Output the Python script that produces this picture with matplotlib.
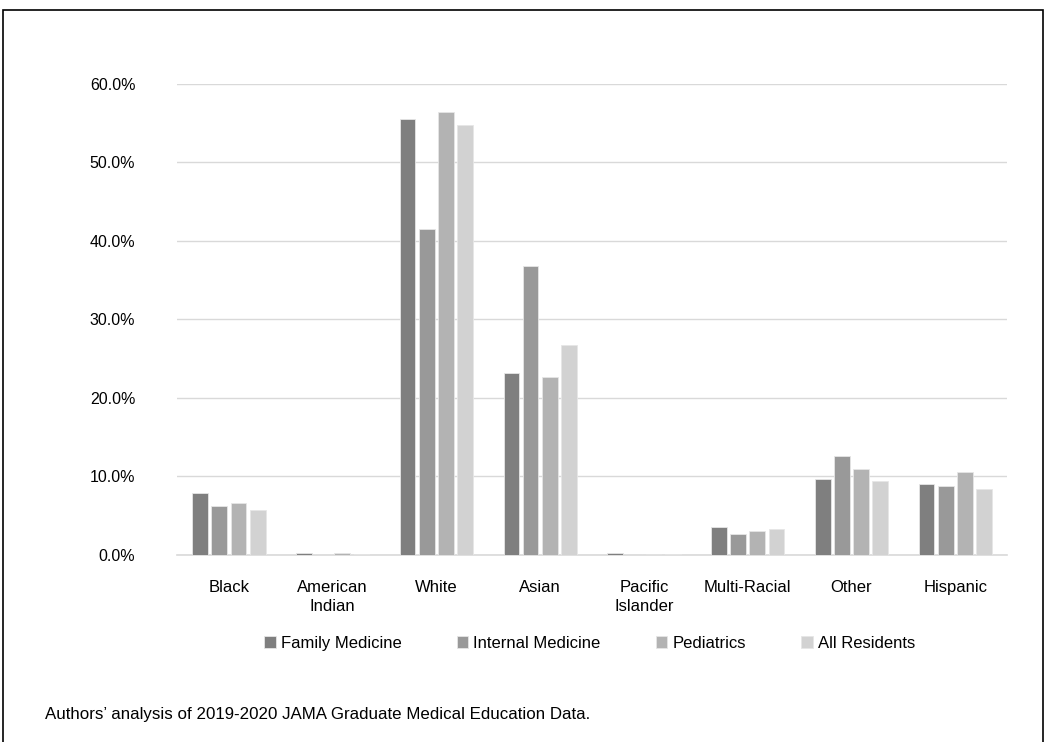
import numpy as np
import matplotlib.pyplot as plt
from matplotlib.patches import Rectangle
from matplotlib.ticker import FuncFormatter

categories = ['Black', 'American\nIndian', 'White', 'Asian', 'Pacific\nIslander',
              'Multi-Racial', 'Other', 'Hispanic']
series_names = ['Family Medicine', 'Internal Medicine', 'Pediatrics', 'All Residents']
family_med = [7.9, 0.3, 55.5, 23.2, 0.2, 3.6, 9.7, 9.1]
internal_med = [6.2, 0.1, 41.5, 36.8, 0.1, 2.7, 12.6, 8.8]
pediatrics = [6.6, 0.2, 56.4, 22.7, 0.1, 3.1, 11.0, 10.6]
all_residents = [5.7, 0.1, 54.8, 26.7, 0.1, 3.3, 9.4, 8.4]
colors = ['#7f7f7f', '#999999', '#b3b3b3', '#d2d2d2']

plt.rcParams['font.family'] = ['Liberation Sans', 'DejaVu Sans']

fig = plt.figure(figsize=(10.47, 7.42), dpi=100)
ax = fig.add_axes([0.169, 0.252, 0.793, 0.635])

x = np.arange(len(categories))
w = 0.185
for i, (vals, name) in enumerate(zip([family_med, internal_med, pediatrics, all_residents], series_names)):
    ax.bar(x + (i - 1.5) * w, vals, width=w * 0.82, color=colors[i],
           edgecolor='#e6e6e6', linewidth=0.6, label=name, zorder=3)

ax.set_xlim(-0.5, len(categories) - 0.5)
ax.set_ylim(0, 60)
ax.set_yticks(np.arange(0, 61, 10))
ax.yaxis.set_major_formatter(FuncFormatter(lambda v, p: f'{v:.1f}%'))
ax.grid(axis='y', color='#d9d9d9', linewidth=1, zorder=0)
ax.set_xticks(x)
ax.set_xticklabels(categories, fontsize=12, linespacing=1.3)
ax.tick_params(axis='both', length=0, colors='black')
ax.tick_params(axis='y', labelsize=11.5, pad=30)
ax.tick_params(axis='x', pad=18)
for s in ['top', 'right', 'left']:
    ax.spines[s].set_visible(False)
ax.spines['bottom'].set_color('#d9d9d9')
ax.spines['bottom'].set_linewidth(1.2)

ax.legend(loc='upper center', bbox_to_anchor=(0.497, -0.14), ncol=4, frameon=False,
          fontsize=12, handlelength=0.7, handleheight=0.7, handletextpad=0.3,
          columnspacing=3.3)

fig.text(0.043, 0.031, 'Authors\u2019 analysis of 2019-2020 JAMA Graduate Medical Education Data.',
         fontsize=12.2)

fig.patches.append(Rectangle((0.003, -0.01), 0.993, 0.997, transform=fig.transFigure,
                             fill=False, edgecolor='black', linewidth=1.2))

fig.savefig('out.png', dpi=100)
